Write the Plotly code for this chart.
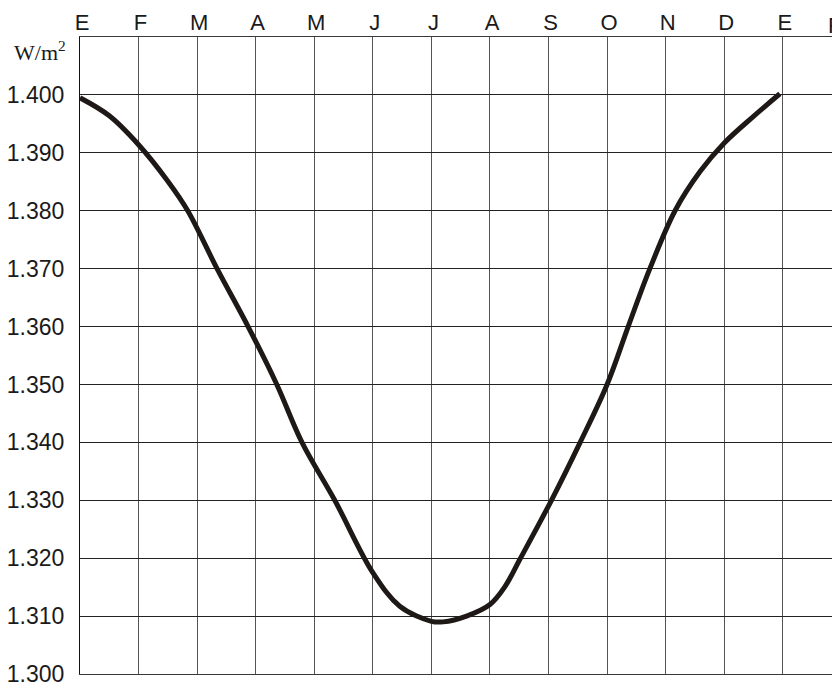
import plotly.graph_objects as go

# Month index (0 = 1 January) and solar irradiance in W/m²
months = [0, 0.5, 1, 1.5, 1.84, 2.34, 2.87, 3.36, 3.79, 4.35, 5.0, 5.46,
          6.0, 6.2, 6.6, 7.0, 7.25, 7.5, 8.05, 8.54, 9.0, 9.36, 9.73,
          10.16, 10.59, 11.0, 11.5, 11.95]
irradiance = [1399.5, 1396.4, 1391.4, 1385.1, 1380.0, 1370.0, 1360.0, 1350.0,
              1340.0, 1330.0, 1317.5, 1311.7, 1309.1, 1309.0, 1310.0, 1312.0,
              1315.0, 1319.6, 1330.0, 1340.0, 1350.0, 1360.0, 1370.0, 1380.0,
              1386.8, 1391.7, 1396.3, 1400.2]

month_ticks = list(range(13))
month_labels = ["E", "F", "M", "A", "M", "J", "J", "A", "S", "O", "N", "D", "E"]
next_label = "F"

y_ticks = list(range(1300, 1401, 10))

X_MAX = 12.84
Y_MIN, Y_MAX = 1300, 1410

sans = "Liberation Sans, Arial, sans-serif"
serif = "Liberation Serif, Times New Roman, serif"

fig = go.Figure()
fig.add_trace(go.Scatter(
    x=months, y=irradiance, mode="lines",
    line=dict(color="#1e1916", width=5, shape="spline", smoothing=1.0),
    hoverinfo="skip", showlegend=False,
))

fig.update_layout(
    width=832, height=684,
    margin=dict(l=80, r=0, t=37, b=10),
    paper_bgcolor="white", plot_bgcolor="white",
    separators=",.",
    xaxis=dict(
        side="top", range=[0, X_MAX], automargin=False,
        tickvals=month_ticks, ticktext=month_labels,
        ticks="", ticklabelshift=2, ticklabelstandoff=-3,
        tickfont=dict(family=sans, size=22, color="#1a1a1a"),
        showgrid=True, gridcolor="#555555", gridwidth=1,
        showline=True, mirror=True, linecolor="#3a3a3a", linewidth=1,
        zeroline=False, fixedrange=True,
    ),
    yaxis=dict(
        range=[Y_MIN, Y_MAX], automargin=False,
        tickvals=y_ticks, tickformat=",d",
        ticks="", ticklabelstandoff=10, ticklabeloverflow="allow",
        tickfont=dict(family=sans, size=23, color="#1a1a1a"),
        showgrid=True, gridcolor="#222222", gridwidth=1,
        showline=True, linecolor="#111111", linewidth=1,
        zeroline=False, fixedrange=True,
    ),
)

# Unit label in the top-left corner of the value axis
fig.add_annotation(
    x=0, xref="paper", y=1407.5, yref="y",
    text="W/m<sup>2</sup>", showarrow=False,
    xanchor="right", yanchor="middle", xshift=-12,
    font=dict(family=serif, size=22, color="#1a1a1a"),
)

# Following month label, running off the right edge
fig.add_annotation(
    x=13 / X_MAX, xref="paper", y=1, yref="paper",
    text=next_label, showarrow=False,
    xanchor="center", yanchor="bottom", xshift=-7, yshift=-3,
    font=dict(family=sans, size=22, color="#1a1a1a"),
)

fig.write_html("out.html")
